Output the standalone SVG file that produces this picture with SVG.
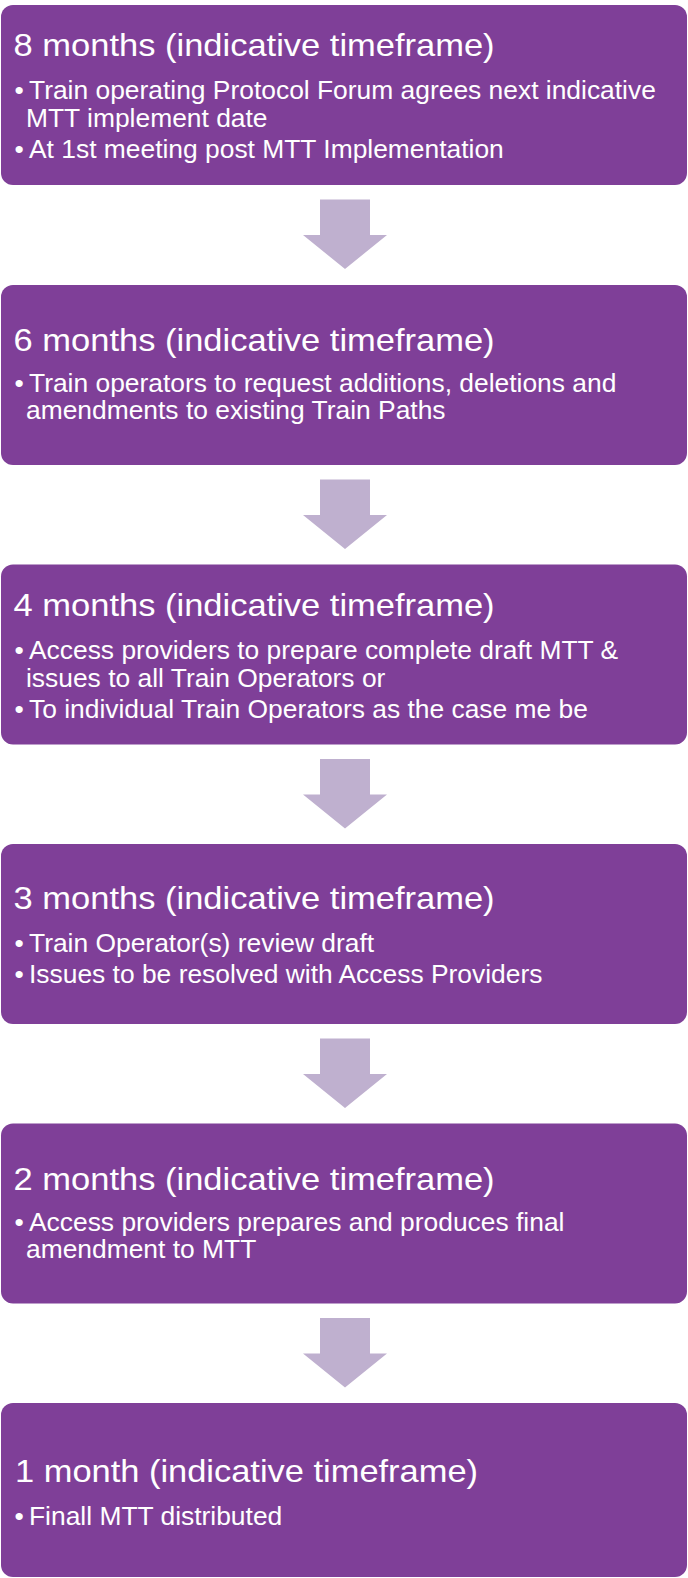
<svg xmlns="http://www.w3.org/2000/svg" width="688" height="1578" viewBox="0 0 688 1578">
<style>
.box{fill:#7F3F98;}
.arr{fill:#BFB0CF;}
.t{font-family:"Liberation Sans",Arial,sans-serif;fill:#FFFFFF;font-size:32px;}
.b{font-family:"Liberation Sans",Arial,sans-serif;fill:#FFFFFF;font-size:26.4px;}
</style>
<rect width="688" height="1578" fill="#FFFFFF"/>
<g id="connectors">
<polygon class="arr" points="320,199.5 370,199.5 370,235 387,235 345,269 303,235 320,235"/>
<polygon class="arr" points="320,479.5 370,479.5 370,515 387,515 345,549 303,515 320,515"/>
<polygon class="arr" points="320,759 370,759 370,794.5 387,794.5 345,828.5 303,794.5 320,794.5"/>
<polygon class="arr" points="320,1038.5 370,1038.5 370,1074 387,1074 345,1108 303,1074 320,1074"/>
<polygon class="arr" points="320,1318 370,1318 370,1353.5 387,1353.5 345,1387.5 303,1353.5 320,1353.5"/>
</g>
<g id="node1">
<rect class="box" x="1" y="5" width="686" height="180" rx="12"/>
<text class="t" x="13.6" y="56" textLength="481" lengthAdjust="spacingAndGlyphs">8 months (indicative timeframe)</text>
<text class="b" x="14.5" y="99">•</text>
<text class="b" x="29" y="99">Train operating Protocol Forum agrees next indicative</text>
<text class="b" x="26" y="127">MTT implement date</text>
<text class="b" x="14.5" y="158">•</text>
<text class="b" x="29" y="158">At 1st meeting post MTT Implementation</text>
</g>
<g id="node2">
<rect class="box" x="1" y="285" width="686" height="180" rx="12"/>
<text class="t" x="13.6" y="351" textLength="481" lengthAdjust="spacingAndGlyphs">6 months (indicative timeframe)</text>
<text class="b" x="14.5" y="392">•</text>
<text class="b" x="29" y="392">Train operators to request additions, deletions and</text>
<text class="b" x="26" y="419">amendments to existing Train Paths</text>
</g>
<g id="node3">
<rect class="box" x="1" y="564.5" width="686" height="180" rx="12"/>
<text class="t" x="13.6" y="615.5" textLength="481" lengthAdjust="spacingAndGlyphs">4 months (indicative timeframe)</text>
<text class="b" x="14.5" y="658.5">•</text>
<text class="b" x="29" y="658.5">Access providers to prepare complete draft MTT &amp;</text>
<text class="b" x="26" y="686.5">issues to all Train Operators or</text>
<text class="b" x="14.5" y="717.5">•</text>
<text class="b" x="29" y="717.5">To individual Train Operators as the case me be</text>
</g>
<g id="node4">
<rect class="box" x="1" y="844" width="686" height="180" rx="12"/>
<text class="t" x="13.6" y="909" textLength="481" lengthAdjust="spacingAndGlyphs">3 months (indicative timeframe)</text>
<text class="b" x="14.5" y="952">•</text>
<text class="b" x="29" y="952">Train Operator(s) review draft</text>
<text class="b" x="14.5" y="983">•</text>
<text class="b" x="29" y="983">Issues to be resolved with Access Providers</text>
</g>
<g id="node5">
<rect class="box" x="1" y="1123.5" width="686" height="180" rx="12"/>
<text class="t" x="13.6" y="1189.5" textLength="481" lengthAdjust="spacingAndGlyphs">2 months (indicative timeframe)</text>
<text class="b" x="14.5" y="1230.5">•</text>
<text class="b" x="29" y="1230.5">Access providers prepares and produces final</text>
<text class="b" x="26" y="1257.5">amendment to MTT</text>
</g>
<g id="node6">
<rect class="box" x="1" y="1403" width="686" height="174" rx="12"/>
<text class="t" x="15" y="1482" textLength="463" lengthAdjust="spacingAndGlyphs">1 month (indicative timeframe)</text>
<text class="b" x="14.5" y="1525">•</text>
<text class="b" x="29" y="1525">Finall MTT distributed</text>
</g>
</svg>
